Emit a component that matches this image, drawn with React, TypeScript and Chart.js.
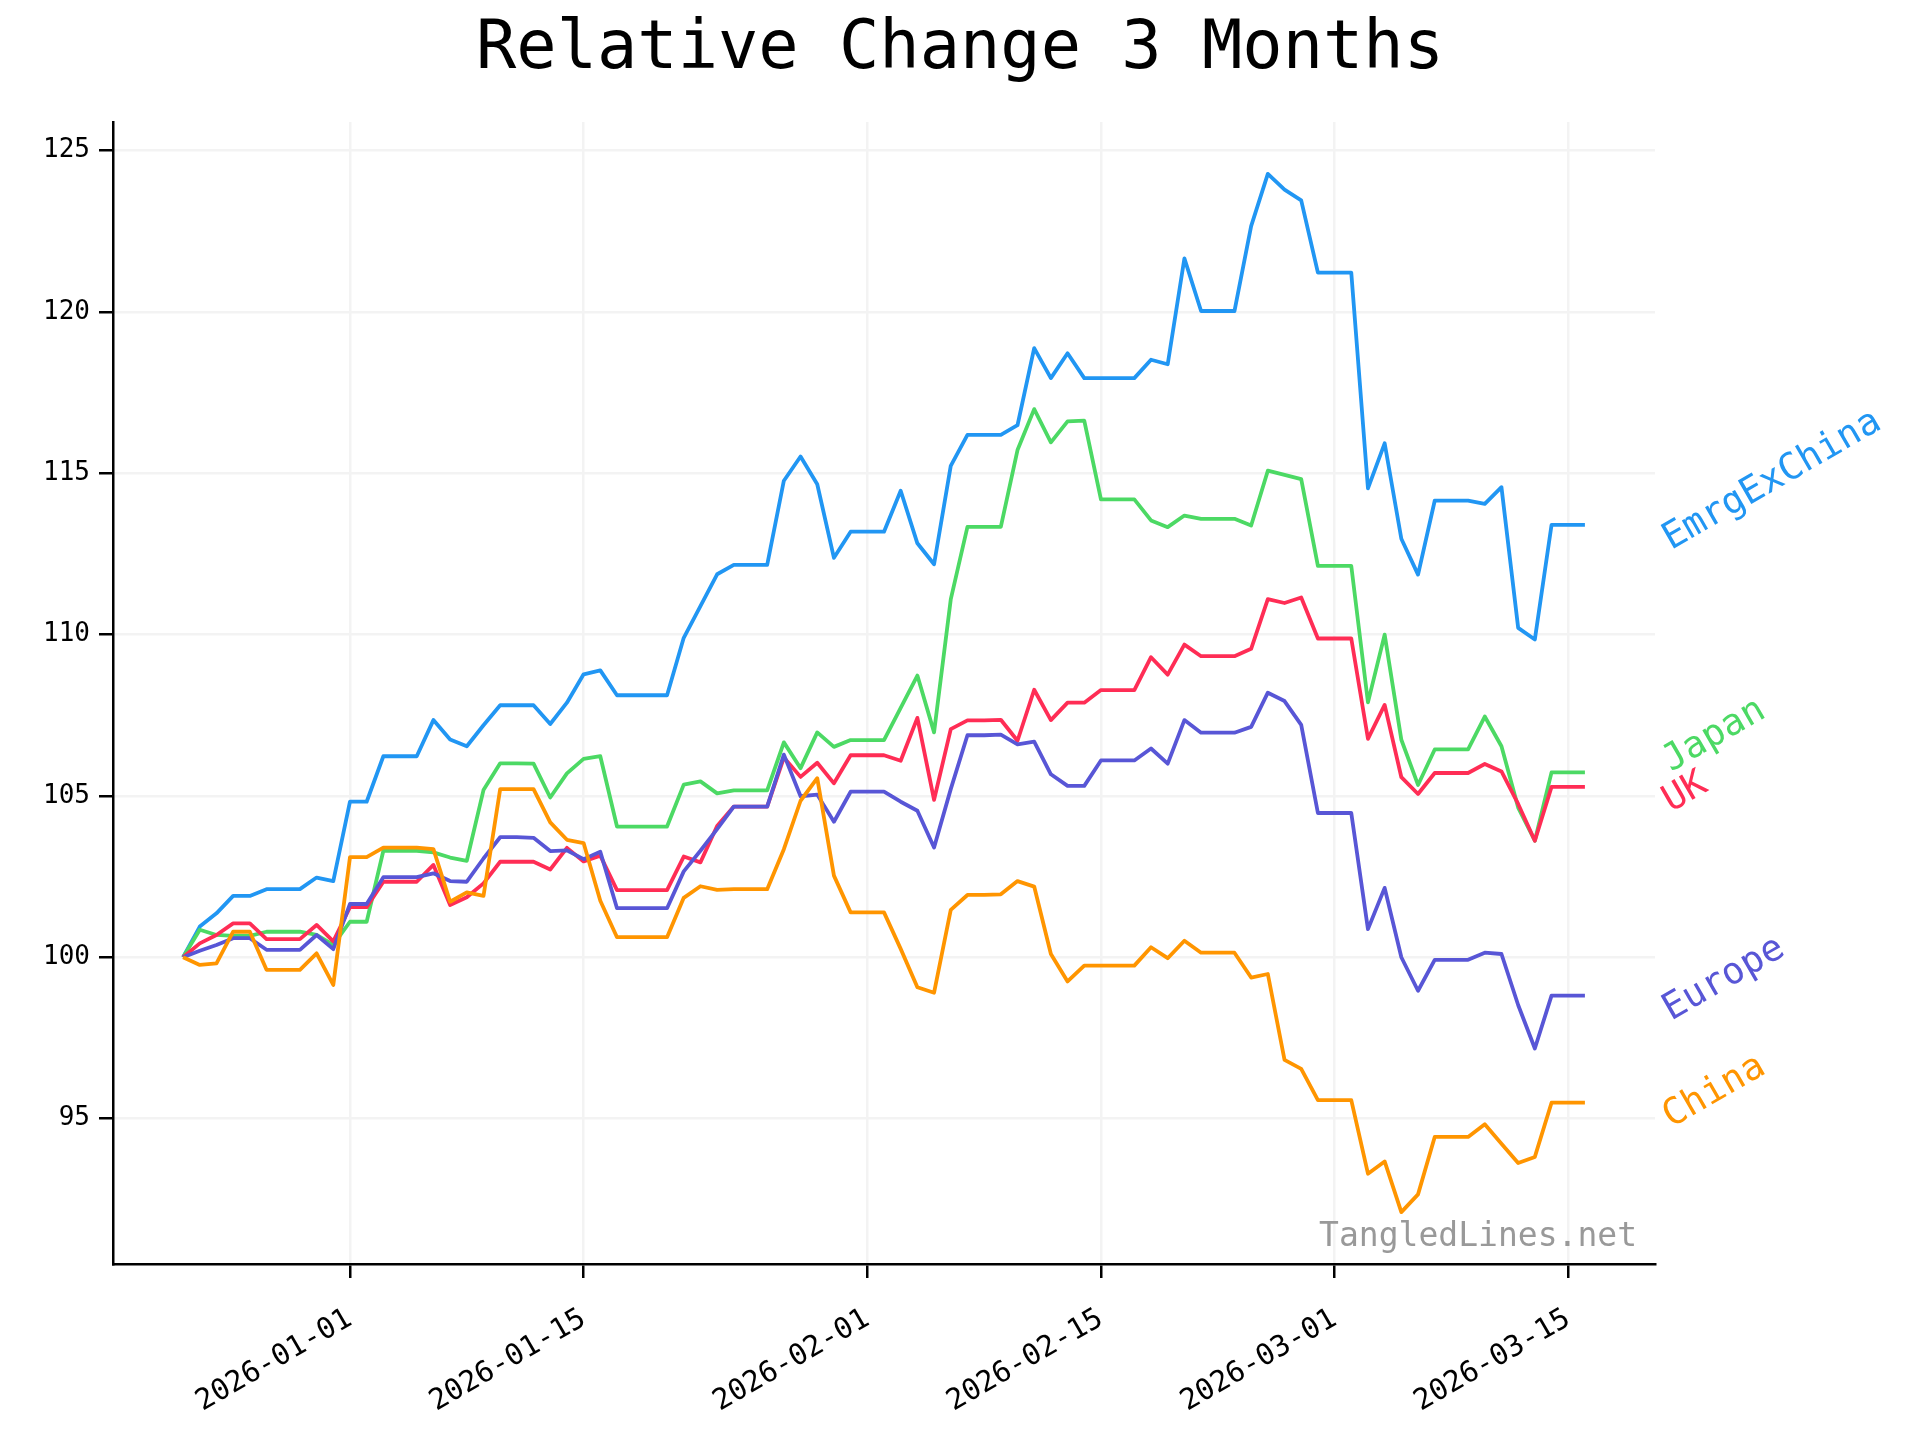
import React, { useEffect, useRef } from 'react';
import { Chart, registerables } from 'chart.js';

Chart.register(...registerables);

// ---------------- DATA ----------------
const dates = [
  '2025-12-22', '2025-12-23', '2025-12-24', '2025-12-25', '2025-12-26', '2025-12-27', '2025-12-28',
  '2025-12-29', '2025-12-30', '2025-12-31', '2026-01-01', '2026-01-02', '2026-01-03', '2026-01-04',
  '2026-01-05', '2026-01-06', '2026-01-07', '2026-01-08', '2026-01-09', '2026-01-10', '2026-01-11',
  '2026-01-12', '2026-01-13', '2026-01-14', '2026-01-15', '2026-01-16', '2026-01-17', '2026-01-18',
  '2026-01-19', '2026-01-20', '2026-01-21', '2026-01-22', '2026-01-23', '2026-01-24', '2026-01-25',
  '2026-01-26', '2026-01-27', '2026-01-28', '2026-01-29', '2026-01-30', '2026-01-31', '2026-02-01',
  '2026-02-02', '2026-02-03', '2026-02-04', '2026-02-05', '2026-02-06', '2026-02-07', '2026-02-08',
  '2026-02-09', '2026-02-10', '2026-02-11', '2026-02-12', '2026-02-13', '2026-02-14', '2026-02-15',
  '2026-02-16', '2026-02-17', '2026-02-18', '2026-02-19', '2026-02-20', '2026-02-21', '2026-02-22',
  '2026-02-23', '2026-02-24', '2026-02-25', '2026-02-26', '2026-02-27', '2026-02-28', '2026-03-01',
  '2026-03-02', '2026-03-03', '2026-03-04', '2026-03-05', '2026-03-06', '2026-03-07', '2026-03-08',
  '2026-03-09', '2026-03-10', '2026-03-11', '2026-03-12', '2026-03-13', '2026-03-14', '2026-03-15',
  '2026-03-16',
];

const emrgExChina = [
  100, 100.95, 101.36, 101.9, 101.9, 102.11, 102.11, 102.11, 102.47, 102.36,
  104.82, 104.82, 106.23, 106.23, 106.23, 107.35, 106.75, 106.54, 107.19, 107.81,
  107.81, 107.81, 107.23, 107.89, 108.77, 108.89, 108.12, 108.12, 108.12, 108.12,
  109.9, 110.88, 111.87, 112.16, 112.16, 112.16, 114.77, 115.52, 114.66, 112.38,
  113.19, 113.19, 113.19, 114.46, 112.83, 112.18, 115.23, 116.19, 116.19, 116.19,
  116.49, 118.88, 117.95, 118.72, 117.95, 117.95, 117.95, 117.95, 118.52, 118.38,
  121.66, 120.03, 120.03, 120.03, 122.66, 124.28, 123.79, 123.46, 121.22, 121.22,
  121.22, 114.53, 115.93, 112.97, 111.86, 114.15, 114.15, 114.15, 114.05, 114.57,
  110.21, 109.85, 113.4, 113.4, 113.4,
];

const japan = [
  100, 100.85, 100.69, 100.66, 100.66, 100.79, 100.79, 100.79, 100.69, 100.38,
  101.1, 101.1, 103.3, 103.3, 103.3, 103.25, 103.09, 102.99, 105.18, 106.01,
  106.01, 106.0, 104.95, 105.7, 106.15, 106.23, 104.05, 104.05, 104.05, 104.05,
  105.35, 105.45, 105.08, 105.17, 105.17, 105.17, 106.66, 105.86, 106.97, 106.52,
  106.73, 106.73, 106.73, 107.73, 108.73, 106.97, 111.09, 113.34, 113.34, 113.34,
  115.72, 116.99, 115.96, 116.61, 116.63, 114.19, 114.19, 114.19, 113.54, 113.33,
  113.69, 113.59, 113.59, 113.59, 113.38, 115.08, 114.95, 114.82, 112.13, 112.13,
  112.13, 107.9, 110.0, 106.74, 105.34, 106.44, 106.44, 106.44, 107.46, 106.54,
  104.64, 103.61, 105.73, 105.73, 105.73,
];

const uk = [
  100, 100.43, 100.69, 101.05, 101.05, 100.56, 100.56, 100.56, 101.0, 100.49,
  101.55, 101.55, 102.34, 102.34, 102.34, 102.86, 101.62, 101.86, 102.29, 102.96,
  102.96, 102.96, 102.72, 103.39, 102.97, 103.15, 102.08, 102.08, 102.08, 102.08,
  103.12, 102.94, 104.07, 104.67, 104.67, 104.67, 106.19, 105.59, 106.03, 105.39,
  106.26, 106.26, 106.26, 106.09, 107.42, 104.88, 107.07, 107.34, 107.34, 107.36,
  106.71, 108.29, 107.35, 107.89, 107.89, 108.28, 108.28, 108.28, 109.3, 108.76,
  109.69, 109.33, 109.33, 109.33, 109.56, 111.1, 110.98, 111.15, 109.88, 109.88,
  109.88, 106.77, 107.82, 105.58, 105.06, 105.71, 105.71, 105.71, 105.99, 105.76,
  104.75, 103.61, 105.28, 105.28, 105.28,
];

const europe = [
  100, 100.2, 100.38, 100.59, 100.59, 100.23, 100.23, 100.23, 100.69, 100.25,
  101.65, 101.65, 102.48, 102.48, 102.48, 102.6, 102.36, 102.34, 103.06, 103.72,
  103.72, 103.7, 103.29, 103.31, 103.04, 103.27, 101.52, 101.52, 101.52, 101.52,
  102.66, 103.3, 103.97, 104.67, 104.67, 104.67, 106.28, 104.99, 105.04, 104.2,
  105.13, 105.13, 105.13, 104.82, 104.54, 103.4, 105.21, 106.88, 106.88, 106.9,
  106.6, 106.68, 105.67, 105.31, 105.31, 106.1, 106.1, 106.1, 106.47, 106.0,
  107.35, 106.96, 106.96, 106.96, 107.14, 108.2, 107.94, 107.2, 104.47, 104.47,
  104.47, 100.87, 102.15, 100.0, 98.96, 99.92, 99.92, 99.92, 100.14, 100.1,
  98.52, 97.17, 98.81, 98.81, 98.81,
];

const china = [
  100, 99.76, 99.81, 100.79, 100.79, 99.61, 99.61, 99.61, 100.12, 99.14,
  103.1, 103.1, 103.4, 103.4, 103.4, 103.35, 101.72, 102.01, 101.9, 105.21,
  105.21, 105.21, 104.18, 103.64, 103.54, 101.75, 100.62, 100.62, 100.62, 100.62,
  101.84, 102.2, 102.09, 102.11, 102.11, 102.11, 103.35, 104.85, 105.55, 102.53,
  101.39, 101.39, 101.39, 100.26, 99.07, 98.9, 101.47, 101.93, 101.93, 101.95,
  102.36, 102.19, 100.1, 99.25, 99.74, 99.74, 99.74, 99.74, 100.31, 99.97,
  100.51, 100.14, 100.14, 100.14, 99.37, 99.48, 96.82, 96.54, 95.57, 95.57,
  95.57, 93.29, 93.67, 92.1, 92.65, 94.43, 94.43, 94.43, 94.82, 94.22,
  93.62, 93.81, 95.49, 95.49, 95.49,
];

const seriesNames = ['EmrgExChina', 'Japan', 'UK', 'Europe', 'China'];
const seriesValues = [emrgExChina, japan, uk, europe, china];

const xTickDates = ['2026-01-01', '2026-01-15', '2026-02-01', '2026-02-15', '2026-03-01', '2026-03-15'];
const yTickValues = [95, 100, 105, 110, 115, 120, 125];

const titleText = 'Relative Change 3 Months';
const watermarkText = 'TangledLines.net';

// ---------------- STYLE ----------------
const seriesColors = ['#2196F3', '#4CD964', '#FF2D55', '#5856D6', '#FF9500'];
const labelNudge = [0, 0.8, 0, 0, 0]; // vertical nudge (value units) to avoid label overlap
const FONT = "'DejaVu Sans Mono', monospace";

const DAY = 86400000;
const t0 = Date.parse(dates[0]);
const dayOf = (d: string) => (Date.parse(d) - t0) / DAY;

export default function App() {
  const canvasRef = useRef<HTMLCanvasElement | null>(null);

  useEffect(() => {
    document.body.style.margin = '0';
    const canvas = canvasRef.current;
    if (!canvas) return;

    const xs = dates.map(dayOf);
    const xSpan = xs[xs.length - 1] - xs[0];
    const allY = seriesValues.flat();
    const yMinD = Math.min(...allY);
    const yMaxD = Math.max(...allY);
    const ySpan = yMaxD - yMinD;

    const datasets = seriesNames.map((name, k) => ({
      label: name,
      data: xs.map((x, i) => ({ x, y: seriesValues[k][i] })),
      borderColor: seriesColors[k],
      backgroundColor: seriesColors[k],
      borderWidth: 3.8,
      pointRadius: 0,
      tension: 0,
      borderJoinStyle: 'round' as const,
      fill: false,
      order: seriesNames.length - k,
    }));

    const decorPlugin = {
      id: 'decor',
      afterDraw(chart: any) {
        const { ctx, scales } = chart;
        const xScale = scales.x;
        const yScale = scales.y;
        ctx.save();
        // title
        ctx.fillStyle = '#000';
        ctx.font = `67px ${FONT}`;
        ctx.textAlign = 'center';
        ctx.textBaseline = 'alphabetic';
        ctx.fillText(titleText, 960, 68);
        // series labels
        const lastX = xs[xs.length - 1];
        seriesNames.forEach((name, k) => {
          const vals = seriesValues[k];
          const px = xScale.getPixelForValue(lastX + 3.85) + 17;
          const py = yScale.getPixelForValue(vals[vals.length - 1] + labelNudge[k]) + 17;
          ctx.save();
          ctx.translate(px, py);
          ctx.rotate(-Math.PI / 6);
          ctx.fillStyle = seriesColors[k];
          ctx.font = `37px ${FONT}`;
          ctx.textAlign = 'left';
          ctx.textBaseline = 'middle';
          ctx.fillText(name, 0, 0);
          ctx.restore();
        });
        // watermark
        ctx.fillStyle = '#999999';
        ctx.font = `33px ${FONT}`;
        ctx.textAlign = 'right';
        ctx.textBaseline = 'alphabetic';
        ctx.fillText(watermarkText, chart.chartArea.right - 18, chart.chartArea.bottom - 18);
        ctx.restore();
      },
    };

    const chart = new Chart(canvas, {
      type: 'line',
      data: { datasets },
      options: {
        animation: false,
        responsive: false,
        devicePixelRatio: 1,
        layout: { padding: { left: 0, right: 265, top: 122, bottom: 0 } },
        plugins: {
          legend: { display: false },
          title: { display: false },
          tooltip: { enabled: false },
        },
        scales: {
          x: {
            type: 'linear',
            min: xs[0] - 0.05 * xSpan,
            max: xs[xs.length - 1] + 0.05 * xSpan,
            afterBuildTicks: (scale: any) => {
              scale.ticks = xTickDates.map((d) => ({ value: dayOf(d) }));
            },
            afterFit: (scale: any) => {
              scale.height = 176;
            },
            ticks: {
              autoSkip: false,
              minRotation: 30,
              maxRotation: 30,
              padding: 24,
              color: '#000',
              font: { family: FONT, size: 29 },
              callback: (value: any) => {
                const found = xTickDates.find((d) => Math.abs(dayOf(d) - Number(value)) < 1e-6);
                return found || '';
              },
            },
            grid: {
              color: '#f3f3f3',
              lineWidth: 2.5,
              drawTicks: true,
              tickLength: 14,
              tickColor: '#000',
              tickWidth: 2.5,
            },
            border: { display: true, color: '#000', width: 2.5 },
          },
          y: {
            type: 'linear',
            min: yMinD - 0.05 * ySpan,
            max: yMaxD + 0.05 * ySpan,
            afterBuildTicks: (scale: any) => {
              scale.ticks = yTickValues.map((v) => ({ value: v }));
            },
            afterFit: (scale: any) => {
              scale.width = 113;
            },
            ticks: {
              padding: 9,
              color: '#000',
              font: { family: FONT, size: 26 },
              callback: (value: any) => String(value),
            },
            grid: {
              color: '#f3f3f3',
              lineWidth: 2.5,
              drawTicks: true,
              tickLength: 14,
              tickColor: '#000',
              tickWidth: 2.5,
            },
            border: { display: true, color: '#000', width: 2.5 },
          },
        },
      },
      plugins: [decorPlugin],
    });

    return () => {
      chart.destroy();
    };
  }, []);

  return (
    <div style={{ width: 1920, height: 1440, background: '#fff' }}>
      <canvas ref={canvasRef} width={1920} height={1440} style={{ width: 1920, height: 1440, display: 'block' }} />
    </div>
  );
}
